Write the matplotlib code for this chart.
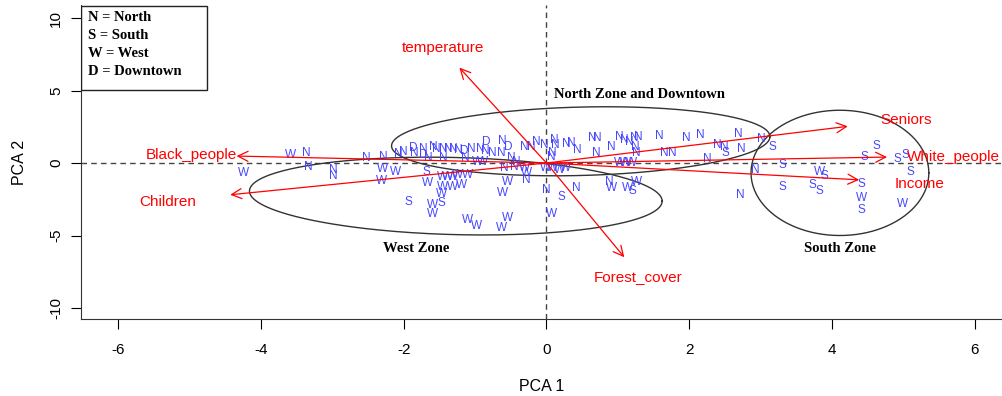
import numpy as np
import matplotlib
matplotlib.use("Agg")
import matplotlib.pyplot as plt
from matplotlib.patches import Rectangle

plt.rcParams["axes.unicode_minus"] = False

# === data ===
# blue point letters (site zone), same order as pc1 / pc2 below
pt_labels = list(
    "WNWNNNNN" "WWWS" "NN" "D" "NNNNNNN" "D" "NN" "D" "NN" "D" "NNNNNNNN" "D"
    "NNN" "WW" "NNNNN" "WW" "N" "WW" "N" "S" "WWWWWWWWWWWW" "S" "WWWWWW" "N" "W"
    "WW"
    "NNNNNNNNNNNNNNNNNNN"
    "NSNWWSWWWWN"
    "NNSNNSNNNSWSSSSNSSSSSSWSW"
)
pc1 = [-3.59, -3.37, -4.25, -3.34, -2.98, -2.98, -2.52, -2.28, -2.29, -2.11,
       -2.31, -1.94, -2.07, -2.00, -1.87, -1.73, -1.58, -1.54, -1.45, -1.38,
       -1.31, -1.24, -1.15, -1.05, -0.92, -0.84, -0.85, -0.62, -0.53, -0.63,
       -0.31, -0.21, -0.14, -0.03, 0.11, 0.13, -1.85, -1.73, -1.66, -1.45,
       -1.13, -0.97, -0.90, -0.76, -0.49, -0.42, -0.59, -0.45, -0.31, -0.28,
       -0.28, -0.01, 0.08, 0.07, -1.68, -1.66, -1.45, -1.38, -1.31, -1.24,
       -1.10, -1.45, -1.31, -1.19, -1.47, -0.55, -0.62, -1.47, -1.59, -1.59,
       -1.10, -0.98, -0.55, -0.63, 0.00, 0.07,
       0.18, 0.27,
       0.28, 0.35, 0.43, 0.64, 0.71, 0.70, 0.91, 1.02,
       1.09, 1.16, 1.23, 1.29, 1.24, 1.26, 1.58, 1.65, 1.76, 1.96,
       2.15,
       0.42, 0.21, 0.88, 0.91, 1.13, 1.20, 1.26, 1.02, 1.10, 1.19, 0.08,
       2.69, 3.01, 3.16, 2.39, 2.49, 2.50, 2.73, 2.25, 2.92, 3.30,
       3.82, 3.89, 3.30, 3.72, 3.82, 2.71, 4.62, 4.45, 4.91, 5.03,
       5.09, 4.41, 4.41, 4.41, 4.98]
pc2 = [0.55, 0.68, -0.68, -0.27, -0.48, -0.89, 0.34, 0.41, -0.41, -0.62,
       -1.23, -2.67, 0.62, 0.75, 1.03, 0.96, 1.10, 0.96, 0.96, 0.96,
       0.96, 0.89, 0.82, 0.96, 0.96, 1.44, 0.82, 1.51, 1.10, 0.68,
       1.10, 1.10, 1.44, 1.23, 1.58, 1.23, 0.68, 0.55, 0.34, 0.34,
       0.34, 0.07, 0.07, 0.68, 0.34, 0.07, -0.34, -0.27, -0.34, -0.68,
       -1.16, -0.34, -0.34, 0.41, -0.62, -1.37, -0.96, -0.96, -0.96, -0.82,
       -0.82, -1.64, -1.64, -1.51, -2.12, -1.30, -2.05, -2.74, -2.88, -3.49,
       -3.90, -4.32, -3.77, -4.45, -1.85, -3.49,
       -0.48, -0.34,
       1.30, 1.37, 0.89, 1.71, 1.71, 0.68, 1.10, 1.78,
       1.58, 1.44, 1.71, 1.78, 1.10, 0.68, 1.85, 0.68, 0.68, 1.71,
       1.92,
       -1.71, -2.33, -1.30, -1.71, -1.71, -1.92, -1.30, 0.00, 0.00, 0.00, 0.68,
       1.99, 1.64, 1.10, 1.23, 1.10, 0.68, 0.96, 0.27, -0.48, -0.14,
       -0.62, -0.89, -1.64, -1.51, -1.92, -2.19, 1.16, 0.41, 0.27, 0.55,
       -0.62, -1.44, -2.40, -3.22, -2.81]

# loading vectors (arrow tips) and where their names sit
var_names = ["temperature", "Black_people", "Children", "Forest_cover",
             "Seniors", "White_people", "Income"]
load_x = [-1.22, -4.34, -4.43, 1.09, 4.22, 4.77, 4.38]
load_y = [6.58, 0.48, -2.19, -6.50, 2.53, 0.41, -1.16]
name_x = [-1.45, -4.98, -5.31, 1.29, 5.03, 5.70, 5.23]
name_y = [7.95, 0.55, -2.67, -7.88, 2.95, 0.41, -1.44]

# zone ellipses: centre, half widths, shear
zones = ["North Zone and Downtown", "West Zone", "South Zone"]
zone_cx = [0.48, -1.27, 4.11]
zone_cy = [1.50, -2.28, -0.68]
zone_a = [2.65, 2.89, 1.245]
zone_b = [2.36, 2.66, 4.32]
zone_shear = [0.12, -0.12, 0.0]
zone_lab_x = [1.30, -1.82, 4.11]
zone_lab_y = [4.73, -5.90, -5.90]

legend_lines = ["N = North", "S = South", "W = West", "D = Downtown"]

# === plot ===
fig = plt.figure(figsize=(10.02, 3.96), dpi=100)
ax = fig.add_axes([0.0808, 0.1944, 0.9192, 0.7930])
ax.set_xlim(-6.52, 6.38)
ax.set_ylim(-10.76, 10.90)

ax.axhline(0, color="#444444", lw=1, ls=(0, (4, 3)), zorder=1)
ax.axvline(0, color="#444444", lw=1, ls=(0, (4, 3)), zorder=1)

for lab, x, y in zip(pt_labels, pc1, pc2):
    ax.text(x, y, lab, color="#4646ff", fontsize=8.5, ha="center", va="center",
            family="Liberation Sans", zorder=3)

t = np.linspace(0, 2 * np.pi, 300)
for i, z in enumerate(zones):
    ex = zone_cx[i] + zone_a[i] * np.cos(t)
    ey = zone_cy[i] + zone_b[i] * np.sin(t) + zone_shear[i] * zone_a[i] * np.cos(t)
    ax.plot(ex, ey, color="#333333", lw=1, zorder=2)
    ax.text(zone_lab_x[i], zone_lab_y[i], z, fontsize=10.5, fontweight="bold",
            family="Liberation Serif", ha="center", va="center")

for i, v in enumerate(var_names):
    ax.annotate("", xy=(load_x[i], load_y[i]), xytext=(0, 0),
                arrowprops=dict(arrowstyle="->,head_length=0.6,head_width=0.3",
                                color="red", lw=0.9, mutation_scale=12,
                                shrinkA=0, shrinkB=0), zorder=4)
    ax.text(name_x[i], name_y[i], v, color="red", fontsize=11,
            family="Liberation Sans", ha="center", va="center", zorder=5)

# legend box in the top left corner
ax.add_patch(Rectangle((0, 0.729), 0.137, 0.267, transform=ax.transAxes,
                       fill=False, edgecolor="#222222", lw=1, zorder=6))
for k, line in enumerate(legend_lines):
    ax.text(0.0076, 0.9586 - k * 0.0563, line, transform=ax.transAxes,
            fontsize=10.5, fontweight="bold", family="Liberation Serif",
            ha="left", va="center")

ax.spines["top"].set_visible(False)
ax.spines["right"].set_visible(False)
for s in ["left", "bottom"]:
    ax.spines[s].set_color("#333333")
ax.set_xticks([-6, -4, -2, 0, 2, 4, 6])
ax.set_yticks([-10, -5, 0, 5, 10])
ax.set_yticklabels(["-10", "-5", "0", "5", "10"], rotation=90, va="center")
ax.tick_params(axis="x", length=7, pad=10, labelsize=11)
ax.tick_params(axis="y", length=7, pad=6, labelsize=11)
for lbl in ax.get_xticklabels() + ax.get_yticklabels():
    lbl.set_family("Liberation Sans")
ax.set_xlabel("PCA 1", fontsize=11.5, family="Liberation Sans", labelpad=16)
ax.set_ylabel("PCA 2", fontsize=11.5, family="Liberation Sans", labelpad=16)

fig.savefig("out.png", dpi=100)
